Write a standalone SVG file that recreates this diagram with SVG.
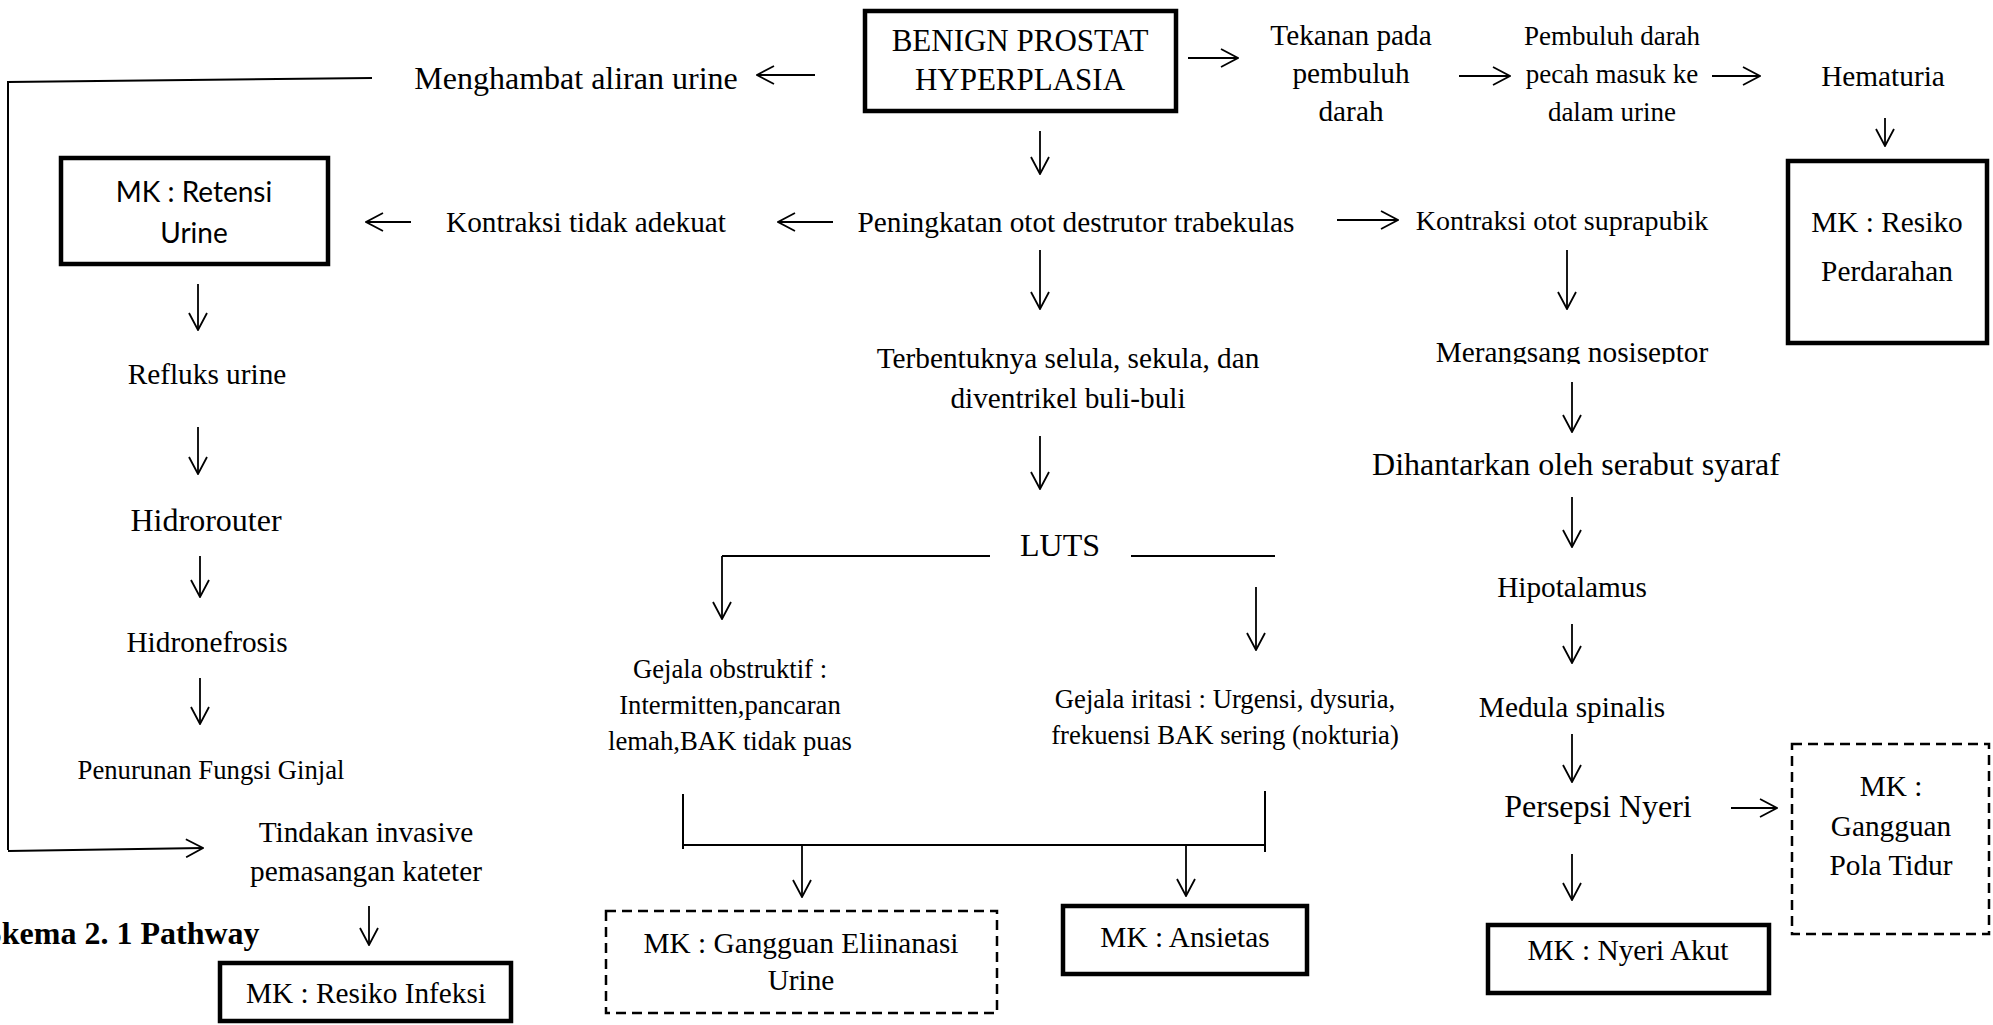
<svg xmlns="http://www.w3.org/2000/svg" width="1993" height="1025" viewBox="0 0 1993 1025">
<style>
text{font-family:'Liberation Serif','Times New Roman',serif;fill:#000;text-anchor:middle}
.s10{font-size:26.7px}.s11{font-size:29.3px}.s12{font-size:32px}
.sans{font-family:Lato,'Liberation Sans',sans-serif;font-size:28px}
.box{fill:#fff;stroke:#000;stroke-width:4.5}
.dbox{fill:#fff;stroke:#000;stroke-width:2.5;stroke-dasharray:10 6}
.ln{stroke:#000;stroke-width:2;fill:none}
.ar{stroke:#000;stroke-width:1.8;fill:none;marker-end:url(#ah)}
</style>
<defs>
<marker id="ah" viewBox="0 0 20 20" refX="19" refY="10" markerWidth="20" markerHeight="20" markerUnits="userSpaceOnUse" orient="auto">
<path d="M2,1 L19,10 L2,19" fill="none" stroke="#000" stroke-width="1.8"/>
</marker>
<clipPath id="clipMer"><rect x="1300" y="320" width="600" height="44"/></clipPath>
</defs>
<rect width="1993" height="1025" fill="#fff"/>

<g id="connectors">
<path class="ln" d="M372,78 L8,82 L8,850"/>
<path class="ar" d="M8,851 L203,848"/>
<path class="ar" d="M815,75 L757,75"/>
<path class="ar" d="M1188,58 L1238,58"/>
<path class="ar" d="M1459,76 L1510,76"/>
<path class="ar" d="M1712,76 L1760,76"/>
<path class="ar" d="M1885,118 L1885,146"/>
<path class="ar" d="M1040,131 L1040,174"/>
<path class="ar" d="M411,222 L366,222"/>
<path class="ar" d="M833,222 L778,222"/>
<path class="ar" d="M1337,220 L1398,220"/>
<path class="ar" d="M1040,250 L1040,309"/>
<path class="ar" d="M1567,250 L1567,309"/>
<path class="ar" d="M198,284 L198,330"/>
<path class="ar" d="M198,427 L198,474"/>
<path class="ar" d="M200,556 L200,597"/>
<path class="ar" d="M200,678 L200,724"/>
<path class="ar" d="M1040,436 L1040,489"/>
<path class="ar" d="M1572,382 L1572,432"/>
<path class="ar" d="M1572,497 L1572,547"/>
<path class="ar" d="M1572,624 L1572,663"/>
<path class="ar" d="M1572,734 L1572,782"/>
<path class="ar" d="M1572,854 L1572,900"/>
<path class="ar" d="M1731,808 L1777,808"/>
<path class="ln" d="M722,556 L990,556 M1131,556 L1275,556"/>
<path class="ar" d="M722,556 L722,619"/>
<path class="ar" d="M1256,587 L1256,650"/>
<path class="ln" d="M683,794 L683,849 M1265,791 L1265,852 M683,845 L1265,845"/>
<path class="ar" d="M802,845 L802,897"/>
<path class="ar" d="M1186,845 L1186,896"/>
<path class="ar" d="M369,906 L369,945"/>
</g>

<g id="benign"><rect class="box" x="865" y="11" width="311" height="100"/>
<text x="1020" y="51" style="font-size:31px">BENIGN PROSTAT</text>
<text x="1020" y="90" style="font-size:31px">HYPERPLASIA</text></g>
<g id="menghambat"><text class="s12" x="576" y="89">Menghambat aliran urine</text></g>
<g id="tekanan"><text class="s11" x="1351" y="45">Tekanan pada</text><text class="s11" x="1351" y="83">pembuluh</text><text class="s11" x="1351" y="121">darah</text></g>
<g id="pembuluh"><text x="1612" y="45" style="font-size:27px">Pembuluh darah</text><text x="1612" y="83" style="font-size:27px">pecah masuk ke</text><text x="1612" y="121" style="font-size:27px">dalam urine</text></g>
<g id="hematuria"><text class="s11" x="1883" y="86">Hematuria</text></g>
<g id="mk-perdarahan"><rect class="box" x="1788" y="161" width="199" height="182"/>
<text class="s11" x="1887" y="232">MK : Resiko</text><text class="s11" x="1887" y="281">Perdarahan</text></g>
<g id="mk-retensi"><rect class="box" x="61" y="158" width="267" height="106"/>
<text class="sans" x="194" y="202">MK : Retensi</text><text class="sans" x="194" y="243">Urine</text></g>
<g id="kontraksi-tidak"><text class="s11" x="586" y="232">Kontraksi tidak adekuat</text></g>
<g id="peningkatan"><text class="s11" x="1076" y="232">Peningkatan otot destrutor trabekulas</text></g>
<g id="kontraksi-otot"><text x="1562" y="230" style="font-size:28px">Kontraksi otot suprapubik</text></g>
<g id="refluks"><text class="s11" x="207" y="384">Refluks urine</text></g>
<g id="hidrorouter"><text class="s12" x="206" y="531">Hidrorouter</text></g>
<g id="hidronefrosis"><text class="s11" x="207" y="652">Hidronefrosis</text></g>
<g id="penurunan"><text class="s10" x="211" y="779">Penurunan Fungsi Ginjal</text></g>
<g id="tindakan"><text class="s11" x="366" y="842">Tindakan invasive</text><text class="s11" x="366" y="881">pemasangan kateter</text></g>
<g id="mk-infeksi"><rect class="box" x="220" y="963" width="291" height="58"/>
<text class="s11" x="366" y="1003">MK : Resiko Infeksi</text></g>
<g id="terbentuknya"><text class="s11" x="1068" y="368">Terbentuknya selula, sekula, dan</text><text class="s11" x="1068" y="408">diventrikel buli-buli</text></g>
<g id="luts"><text class="s12" x="1060" y="556">LUTS</text></g>
<g id="obstruktif"><text class="s10" x="730" y="678">Gejala obstruktif :</text><text class="s10" x="730" y="714">Intermitten,pancaran</text><text class="s10" x="730" y="750">lemah,BAK tidak puas</text></g>
<g id="iritasi"><text class="s10" x="1225" y="708">Gejala iritasi : Urgensi, dysuria,</text><text class="s10" x="1225" y="744">frekuensi BAK sering (nokturia)</text></g>
<g id="mk-eliminasi"><rect class="dbox" x="606" y="911" width="391" height="102"/>
<text class="s11" x="801" y="953">MK : Gangguan Eliinanasi</text><text class="s11" x="801" y="990">Urine</text></g>
<g id="mk-ansietas"><rect class="box" x="1063" y="906" width="244" height="68"/>
<text class="s11" x="1185" y="947">MK : Ansietas</text></g>
<g id="merangsang"><text class="s11" x="1572" y="362" clip-path="url(#clipMer)">Merangsang nosiseptor</text></g>
<g id="dihantarkan"><text class="s12" x="1576" y="475">Dihantarkan oleh serabut syaraf</text></g>
<g id="hipotalamus"><text class="s11" x="1572" y="597">Hipotalamus</text></g>
<g id="medula"><text class="s11" x="1572" y="717">Medula spinalis</text></g>
<g id="persepsi"><text class="s12" x="1598" y="817">Persepsi Nyeri</text></g>
<g id="mk-pola-tidur"><rect class="dbox" x="1792" y="744" width="197" height="190"/>
<text class="s11" x="1891" y="796">MK :</text><text class="s11" x="1891" y="836">Gangguan</text><text class="s11" x="1891" y="875">Pola Tidur</text></g>
<g id="mk-nyeri"><rect class="box" x="1488" y="925" width="281" height="68"/>
<text class="s11" x="1628" y="960">MK : Nyeri Akut</text></g>
<g id="caption"><text class="s12" x="-16" y="944" style="text-anchor:start;font-weight:bold">Skema 2. 1 Pathway</text></g>
</svg>
